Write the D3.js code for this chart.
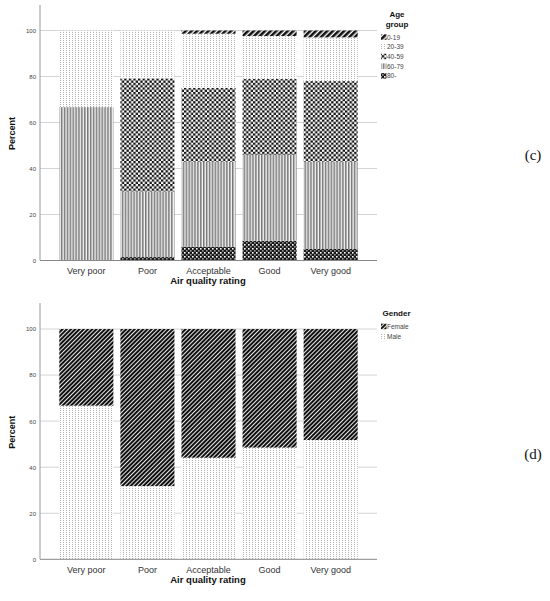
<!DOCTYPE html>
<html>
<head>
<meta charset="utf-8">
<script src="https://cdn.jsdelivr.net/npm/d3@7"></script>
<style>
  html, body { margin: 0; padding: 0; background: #fff; }
  svg { display: block; font-family: "Liberation Sans", Arial, sans-serif; }
</style>
</head>
<body>
<svg id="chart"></svg>
<script>
// ── DATA ─────────────────────────────────────────────────────────────────
const categories = ["Very poor", "Poor", "Acceptable", "Good", "Very good"];
const yTicks = [0, 20, 40, 60, 80, 100];

// (c) age group, percent per rating
const ageGroups = ["0-19", "20-39", "40-59", "60-79", "80-"];
const age0_19  = [0, 0, 1.4, 2.4, 3.0];
const age20_39 = [33.3, 20.8, 23.5, 18.7, 19.0];
const age40_59 = [0, 49.2, 32.1, 33.0, 35.0];
const age60_79 = [66.7, 28.5, 37.0, 37.3, 38.0];
const age80    = [0, 1.5, 6.0, 8.6, 5.0];

// (d) gender, percent per rating
const genders = ["Female", "Male"];
const female = [33.3, 68.2, 55.9, 51.5, 48.2];
const male   = [66.7, 31.8, 44.1, 48.5, 51.8];

// ── SVG + PATTERNS ───────────────────────────────────────────────────────
const W = 550, H = 601;
const svg = d3.select("#chart").attr("width", W).attr("height", H);
const defs = svg.append("defs");

function pat(id, w, h, bg, rot) {
  const p = defs.append("pattern")
    .attr("id", id)
    .attr("patternUnits", "userSpaceOnUse")
    .attr("width", w).attr("height", h);
  if (rot) p.attr("patternTransform", `rotate(${rot})`);
  p.append("rect").attr("width", w).attr("height", h).attr("fill", bg);
  return p;
}

// 0-19 : thick diagonal stripes
pat("p-0-19", 4, 4, "#fff", 45)
  .append("rect").attr("width", 2.6).attr("height", 4).attr("fill", "#111");
// 20-39 / Male : light dots
pat("p-20-39", 3, 2, "#fff")
  .append("rect").attr("width", 1).attr("height", 1).attr("fill", "#b4b4b4");
// 40-59 : checkerboard
{
  const p = pat("p-40-59", 4.6, 4.6, "#fff");
  p.append("rect").attr("width", 2.3).attr("height", 2.3).attr("fill", "#111");
  p.append("rect").attr("x", 2.3).attr("y", 2.3).attr("width", 2.3).attr("height", 2.3).attr("fill", "#111");
}
// 60-79 : vertical lines
pat("p-60-79", 2.9, 3, "#f2f2f2")
  .append("rect").attr("width", 1.5).attr("height", 3).attr("fill", "#777");
// 80- : dark checker with light spots
{
  const p = pat("p-80", 4, 4, "#1a1a1a");
  p.append("rect").attr("width", 1.6).attr("height", 1.6).attr("fill", "#fff");
  p.append("rect").attr("x", 2).attr("y", 2).attr("width", 1.6).attr("height", 1.6).attr("fill", "#999");
}
// Female : dense diagonal stripes
pat("p-female", 3, 3, "#fff", 45)
  .append("rect").attr("width", 2.1).attr("height", 3).attr("fill", "#111");

const PATTERN = {
  "0-19": "url(#p-0-19)",
  "20-39": "url(#p-20-39)",
  "40-59": "url(#p-40-59)",
  "60-79": "url(#p-60-79)",
  "80-": "url(#p-80)",
  "Female": "url(#p-female)",
  "Male": "url(#p-20-39)",
};

// ── SHARED X SCALE ───────────────────────────────────────────────────────
const xScale = d3.scaleBand()
  .domain(categories)
  .range([55.8, 361.2])
  .paddingInner(0.115)
  .paddingOuter(0.0575);

const axisX0 = 40, axisX1 = 377;

// ── PANEL ────────────────────────────────────────────────────────────────
function drawPanel(cfg) {
  const g = svg.append("g");
  const yScale = d3.scaleLinear().domain([0, 100]).range([cfg.y0, cfg.y100]);

  // grid
  g.append("g")
    .selectAll("line")
    .data(yTicks.filter(t => t > 0))
    .join("line")
      .attr("x1", axisX0).attr("x2", axisX1)
      .attr("y1", d => yScale(d)).attr("y2", d => yScale(d))
      .attr("stroke", "#d4d4d4").attr("stroke-width", 1);

  // y axis
  g.append("g")
    .attr("transform", `translate(${axisX0},0)`)
    .call(d3.axisLeft(yScale).tickValues(yTicks).tickSize(0).tickPadding(4))
    .call(ax => ax.select(".domain").remove())
    .call(ax => ax.selectAll(".tick text")
      .style("font-size", "6px")
      .style("font-family", "Liberation Sans, Arial, sans-serif")
      .attr("fill", "#444"));

  g.append("line")
    .attr("x1", axisX0).attr("x2", axisX0)
    .attr("y1", cfg.axisTop).attr("y2", cfg.y0)
    .attr("stroke", "#999");

  // stacked bars
  const rows = categories.map((c, i) => {
    const r = { cat: c };
    cfg.keys.forEach(k => { r[k] = cfg.values[k][i]; });
    return r;
  });
  const series = d3.stack().keys(cfg.stackOrder)(rows);

  g.append("g")
    .selectAll("g")
    .data(series)
    .join("g")
      .attr("fill", s => PATTERN[s.key])
    .selectAll("rect")
    .data(s => s)
    .join("rect")
      .attr("x", d => xScale(d.data.cat))
      .attr("width", xScale.bandwidth())
      .attr("y", d => yScale(d[1]))
      .attr("height", d => Math.max(0, yScale(d[0]) - yScale(d[1])));

  // baseline
  g.append("line")
    .attr("x1", axisX0).attr("x2", axisX1)
    .attr("y1", cfg.y0).attr("y2", cfg.y0)
    .attr("stroke", "#888");

  // x labels
  g.append("g")
    .attr("transform", `translate(0,${cfg.y0})`)
    .call(d3.axisBottom(xScale).tickSize(0).tickPadding(7))
    .call(ax => ax.select(".domain").remove())
    .call(ax => ax.selectAll(".tick text")
      .style("font-size", "9px")
      .style("font-family", "Liberation Sans, Arial, sans-serif")
      .attr("fill", "#333"));

  // titles
  g.append("text")
    .attr("x", 208).attr("y", cfg.y0 + 23.5)
    .attr("text-anchor", "middle")
    .attr("font-size", "9.5px").attr("font-weight", "bold").attr("fill", "#111")
    .text("Air quality rating");

  g.append("text")
    .attr("transform", `translate(15,${(cfg.y0 + cfg.y100) / 2 - 12}) rotate(-90)`)
    .attr("text-anchor", "middle")
    .attr("font-size", "9px").attr("font-weight", "bold").attr("fill", "#111")
    .text("Percent");

  // legend
  const lg = g.append("g");
  cfg.legendTitle.forEach((t, i) => {
    lg.append("text")
      .attr("x", cfg.legendTitleX).attr("y", cfg.legendTop + i * 10)
      .attr("text-anchor", cfg.legendTitleAnchor)
      .attr("font-size", "8px").attr("font-weight", "bold").attr("fill", "#111")
      .text(t);
  });
  cfg.keys.forEach((k, i) => {
    const yy = cfg.legendItemsTop + i * 9.7;
    lg.append("rect")
      .attr("x", 381).attr("y", yy - 3)
      .attr("width", 5.5).attr("height", 5.5)
      .attr("fill", PATTERN[k]);
    lg.append("text")
      .attr("x", 387).attr("y", yy + 2.3)
      .attr("font-size", "6.5px").attr("fill", "#444")
      .text(k);
  });

  // panel tag
  svg.append("text")
    .attr("x", 533).attr("y", cfg.tagY)
    .attr("text-anchor", "middle")
    .attr("font-family", "Liberation Serif, serif")
    .attr("font-size", "15px").attr("fill", "#111")
    .text(cfg.tag);
}

drawPanel({
  y0: 260.5, y100: 30.5, axisTop: 5,
  keys: ageGroups,
  stackOrder: ["80-", "60-79", "40-59", "20-39", "0-19"],
  values: { "0-19": age0_19, "20-39": age20_39, "40-59": age40_59, "60-79": age60_79, "80-": age80 },
  legendTitle: ["Age", "group"], legendTitleX: 397, legendTitleAnchor: "middle",
  legendTop: 16.5, legendItemsTop: 37.3,
  tag: "(c)", tagY: 160,
});

drawPanel({
  y0: 559.3, y100: 329, axisTop: 303,
  keys: genders,
  stackOrder: ["Male", "Female"],
  values: { "Female": female, "Male": male },
  legendTitle: ["Gender"], legendTitleX: 382.5, legendTitleAnchor: "start",
  legendTop: 315.5, legendItemsTop: 326.7,
  tag: "(d)", tagY: 459,
});
</script>
</body>
</html>
